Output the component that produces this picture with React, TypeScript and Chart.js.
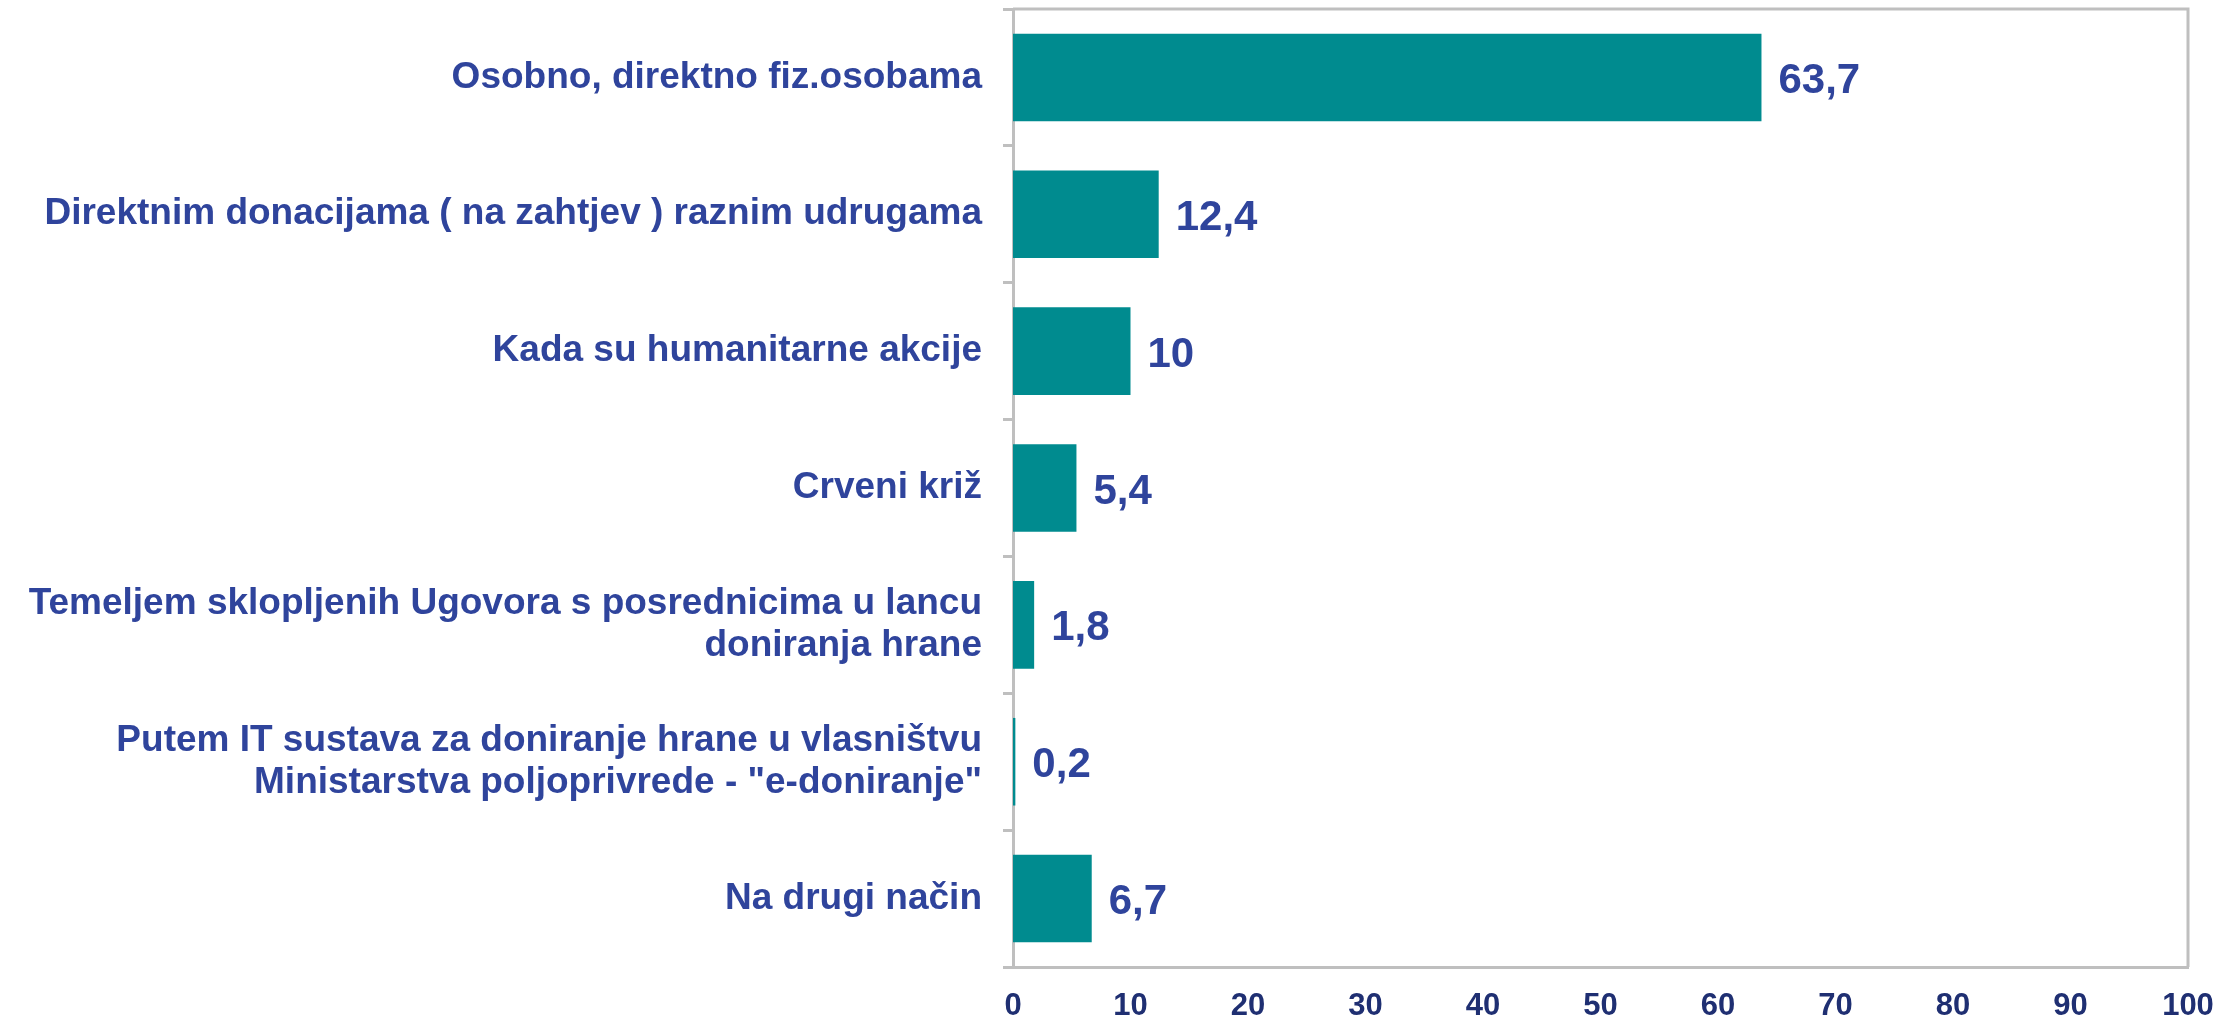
import React, { useEffect, useRef } from "react";
import { Chart, registerables } from "chart.js";

Chart.register(...registerables);

const categories: (string | string[])[] = [
  "Osobno, direktno fiz.osobama",
  "Direktnim donacijama ( na zahtjev ) raznim udrugama",
  "Kada su humanitarne akcije",
  "Crveni križ",
  ["Temeljem sklopljenih Ugovora s posrednicima u lancu", "doniranja hrane"],
  ["Putem IT sustava za doniranje hrane u vlasništvu", "Ministarstva poljoprivrede - \"e-doniranje\""],
  "Na drugi način",
];

const values: number[] = [63.7, 12.4, 10, 5.4, 1.8, 0.2, 6.7];

const xTicks = { min: 0, max: 100, step: 10 };

const FONT = "'Liberation Sans', Arial, sans-serif";
const LABEL_COLOR = "#2f449c";
const TICK_COLOR = "#1f2f72";
const AXIS_COLOR = "#bfbfbf";
const BAR_COLOR = "#008b8f";

const fmt = (v: number) => String(v).replace(".", ",");

const frameAndLabels = {
  id: "frameAndLabels",
  afterDatasetsDraw(chart: any) {
    const { ctx, chartArea } = chart;
    ctx.save();
    ctx.strokeStyle = AXIS_COLOR;
    ctx.lineWidth = 3;
    ctx.beginPath();
    ctx.moveTo(chartArea.left, chartArea.top);
    ctx.lineTo(chartArea.right, chartArea.top);
    ctx.lineTo(chartArea.right, chartArea.bottom);
    ctx.stroke();

    const meta = chart.getDatasetMeta(0);
    ctx.font = `bold 42px ${FONT}`;
    ctx.fillStyle = LABEL_COLOR;
    ctx.textAlign = "left";
    ctx.textBaseline = "middle";
    meta.data.forEach((bar: any, i: number) => {
      ctx.fillText(fmt(values[i]), bar.x + 17, bar.y + 4);
    });
    ctx.restore();
  },
};

export default function App() {
  const ref = useRef<HTMLCanvasElement>(null);

  useEffect(() => {
    if (!ref.current) return;
    const chart = new Chart(ref.current, {
      type: "bar",
      data: {
        labels: categories,
        datasets: [
          {
            data: values,
            backgroundColor: BAR_COLOR,
            barPercentage: 0.64,
            categoryPercentage: 1,
          },
        ],
      },
      options: {
        indexAxis: "y",
        animation: false,
        responsive: true,
        maintainAspectRatio: false,
        layout: { padding: { top: 9, right: 51, bottom: 0, left: 0 } },
        plugins: {
          legend: { display: false },
          tooltip: { enabled: false },
        },
        scales: {
          x: {
            min: xTicks.min,
            max: xTicks.max,
            ticks: {
              stepSize: xTicks.step,
              color: TICK_COLOR,
              font: { family: FONT, size: 31, weight: "bold" },
              padding: 21,
              maxRotation: 0,
            },
            grid: { display: false, drawTicks: false },
            border: { display: true, color: AXIS_COLOR, width: 3 },
            afterFit: (s: any) => {
              s.height = 52;
              s.paddingLeft = 0;
              s.paddingRight = 0;
            },
          },
          y: {
            ticks: {
              color: LABEL_COLOR,
              font: { family: FONT, size: 37, weight: "bold", lineHeight: 1.12 },
              padding: 21,
              autoSkip: false,
            },
            grid: {
              display: true,
              offset: true,
              drawOnChartArea: false,
              drawTicks: true,
              tickLength: 10,
              color: AXIS_COLOR,
              lineWidth: 3,
            },
            border: { display: true, color: AXIS_COLOR, width: 3 },
            afterFit: (s: any) => {
              s.width = 1013;
              s.paddingTop = 0;
              s.paddingBottom = 0;
            },
          },
        },
      },
      plugins: [frameAndLabels],
    });
    return () => chart.destroy();
  }, []);

  return (
    <div style={{ position: "fixed", left: 0, top: 0, width: 2239, height: 1019, background: "#fff" }}>
      <canvas ref={ref} />
    </div>
  );
}
